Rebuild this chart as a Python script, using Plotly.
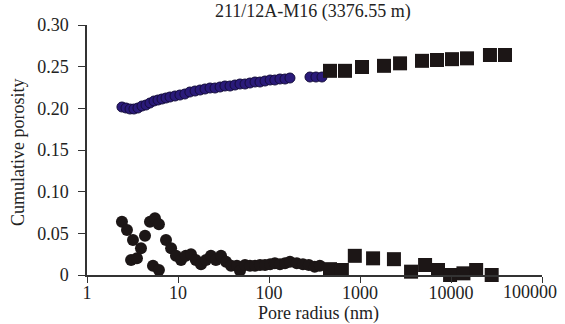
import math
import plotly.graph_objects as go

# Upper series, small radius (blue circles)
up_c_r = [2.42, 2.68, 2.97, 3.28, 3.63, 4.02, 4.45, 4.92, 5.45, 6.03, 6.67, 7.38, 8.17, 9.27,
          10.5, 11.9, 13.5, 15.4, 17.5, 19.8, 22.5, 25.5, 29.0, 32.8, 37.3, 42.3, 48.0, 54.5,
          61.8, 70.2, 79.6, 90.4, 103, 116, 132, 150, 170, 282, 328, 382]
up_c_p = [0.2016, 0.2004, 0.1992, 0.1992, 0.2004, 0.2028, 0.204, 0.2064, 0.2088, 0.21, 0.2112,
          0.2124, 0.2136, 0.2148, 0.216, 0.2172, 0.2196, 0.2208, 0.222, 0.2232, 0.2244, 0.2244,
          0.2256, 0.2268, 0.2268, 0.228, 0.2292, 0.2292, 0.2304, 0.2316, 0.2316, 0.2328, 0.234,
          0.234, 0.2352, 0.2352, 0.2364, 0.2376, 0.2376, 0.2376]

# Upper series, large radius (black squares)
up_s_r = [468, 684, 1052, 1836, 2754, 4800, 7020, 10260, 15000, 26800, 39200]
up_s_p = [0.245, 0.245, 0.2496, 0.251, 0.254, 0.257, 0.258, 0.259, 0.260, 0.264, 0.264]

# Lower series, small radius (black circles)
lo_c_r = [2.42, 2.75, 3.20, 3.05, 3.54, 3.92, 4.34, 4.92, 5.58, 6.17, 5.31, 6.17, 7.38, 8.40,
          9.50, 10.8, 12.2, 13.9, 15.7, 17.9, 20.3, 23.0, 26.1, 29.7, 33.7, 38.3, 44.4, 48.0,
          54.5, 61.8, 70.2, 79.6, 90.4, 103, 116, 132, 150, 170, 202, 236, 274, 318, 362]
lo_c_p = [0.064, 0.054, 0.042, 0.018, 0.020, 0.032, 0.047, 0.064, 0.068, 0.061, 0.011, 0.006,
          0.042, 0.032, 0.023, 0.018, 0.023, 0.025, 0.018, 0.013, 0.018, 0.023, 0.018, 0.023,
          0.016, 0.011, 0.011, 0.005, 0.012, 0.011, 0.011, 0.012, 0.012, 0.013, 0.014, 0.013,
          0.014, 0.016, 0.014, 0.013, 0.012, 0.010, 0.011]

# Lower series, large radius (black squares)
lo_s_r = [468, 632, 877, 1392, 2360, 3640, 5190, 7200, 9770, 13700, 18900, 28000]
lo_s_p = [0.007, 0.006, 0.023, 0.020, 0.019, 0.004, 0.012, 0.006, 0.0, 0.002, 0.006, 0.0]

y_ticks = [0, 0.05, 0.10, 0.15, 0.20, 0.25, 0.30]
y_labels = ["0", "0.05", "0.10", "0.15", "0.20", "0.25", "0.30"]
x_ticks = [1, 10, 100, 1000, 10000, 100000]
x_labels = ["1", "10", "100", "1000", "10000", "100000"]

BLUE = "#2a1a7a"
BLUE_EDGE = "#140c3c"
BLACK = "#1c1616"
TXT = "#222222"
FONT = "Liberation Serif"
FS = 18

fig = go.Figure()
fig.add_trace(go.Scatter(x=up_c_r, y=up_c_p, mode="markers", cliponaxis=False,
                         marker=dict(symbol="circle", size=10, color=BLUE,
                                     line=dict(color=BLUE_EDGE, width=1))))
fig.add_trace(go.Scatter(x=up_s_r, y=up_s_p, mode="markers", cliponaxis=False,
                         marker=dict(symbol="square", size=14, color=BLACK,
                                     line=dict(width=0))))
fig.add_trace(go.Scatter(x=lo_c_r, y=lo_c_p, mode="markers", cliponaxis=False,
                         marker=dict(symbol="circle", size=12, color=BLACK,
                                     line=dict(width=0))))
fig.add_trace(go.Scatter(x=lo_s_r, y=lo_s_p, mode="markers", cliponaxis=False,
                         marker=dict(symbol="square", size=14, color=BLACK,
                                     line=dict(width=0))))

# last x tick label is nudged left (as in the reference) so it stays inside the chart
shown_x_labels = x_labels[:-1] + [""]

fig.update_layout(
    width=565, height=324,
    margin=dict(l=87, r=23, t=25, b=49, autoexpand=False),
    paper_bgcolor="white", plot_bgcolor="white",
    showlegend=False,
    font=dict(family=FONT, size=FS, color=TXT),
    xaxis=dict(type="log", range=[0, 5], tickvals=x_ticks, ticktext=shown_x_labels,
               showgrid=False, zeroline=False, showline=True, linecolor="#333333",
               linewidth=1.5, ticks="outside", ticklen=6, tickcolor="#333333",
               tickfont=dict(family=FONT, size=FS), automargin=False,
               ticklabelstandoff=-5),
    yaxis=dict(range=[0, 0.30], tickvals=y_ticks, ticktext=y_labels,
               showgrid=False, zeroline=False, showline=True, linecolor="#333333",
               linewidth=1.5, ticks="outside", ticklen=7, tickcolor="#333333",
               tickfont=dict(family=FONT, size=FS), automargin=False,
               ticklabelstandoff=6),
    annotations=[
        dict(text="211/12A-M16 (3376.55 m)", xref="paper", yref="paper",
             x=(313 - 87) / 455, y=(275 - 12) / 250, xanchor="center", yanchor="middle",
             showarrow=False, font=dict(family=FONT, size=FS, color=TXT)),
        dict(text="Pore radius (nm)", xref="paper", yref="paper",
             x=(318 - 87) / 455, y=(275 - 313) / 250, xanchor="center", yanchor="middle",
             showarrow=False, font=dict(family=FONT, size=FS, color=TXT)),
        dict(text="Cumulative porosity", xref="paper", yref="paper", textangle=-90,
             x=(18 - 87) / 455, y=(275 - 152) / 250, xanchor="center", yanchor="middle",
             showarrow=False, font=dict(family=FONT, size=FS, color=TXT)),
        dict(text=x_labels[-1], xref="x", yref="paper",
             x=math.log10(x_ticks[-1]), y=0, yanchor="top", yshift=-5,
             xanchor="center", xshift=-12, showarrow=False,
             font=dict(family=FONT, size=FS, color=TXT)),
    ],
)

fig.write_html("out.html")
